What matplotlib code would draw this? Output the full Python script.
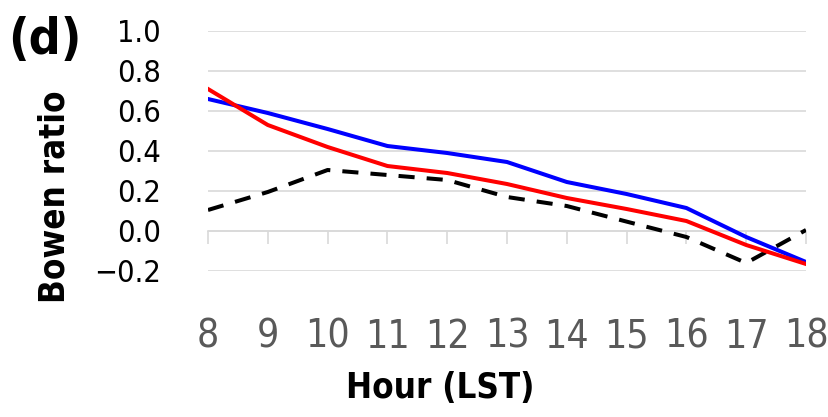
import matplotlib
matplotlib.use("Agg")
import matplotlib.pyplot as plt
from matplotlib import font_manager as fm

hours = [8, 9, 10, 11, 12, 13, 14, 15, 16, 17, 18]
blue_series = [0.66, 0.59, 0.51, 0.425, 0.39, 0.345, 0.245, 0.185, 0.115, -0.03, -0.155]
red_series = [0.71, 0.53, 0.42, 0.325, 0.29, 0.235, 0.165, 0.11, 0.05, -0.07, -0.165]
black_series = [0.105, 0.195, 0.305, 0.28, 0.255, 0.17, 0.125, 0.047, -0.03, -0.16, 0.005]
y_ticks = [-0.2, 0.0, 0.2, 0.4, 0.6, 0.8, 1.0]
y_tick_labels = ['\u22120.2', '0.0', '0.2', '0.4', '0.6', '0.8', '1.0']

# Prefer a narrow sans face when one is installed
fonts = fm.fontManager.ttflist
names = {f.name for f in fonts}
stretch = 'normal'
if 'Liberation Sans Narrow' in names:
    family = 'Liberation Sans Narrow'
elif any(f.name == 'DejaVu Sans' and 'ondensed' in f.fname for f in fonts):
    family, stretch = 'DejaVu Sans', 'condensed'
else:
    family = 'Open Sans'
plt.rcParams['font.family'] = [family, 'DejaVu Sans']
plt.rcParams['font.stretch'] = stretch

W, H = 829, 417
fig = plt.figure(figsize=(W / 100, H / 100), dpi=100)
ax = fig.add_axes([208 / W, 1 - 271 / H, (806 - 208) / W, (271 - 31) / H])

grid_color = '#d9d9d9'
for yv in y_ticks:
    ax.axhline(yv, color=grid_color, lw=1.2, zorder=1)

ax.plot(hours, black_series, color='black', lw=2.9, ls=(0, (4, 3)),
        dash_capstyle='butt', zorder=3)
ax.plot(hours, blue_series, color='#0000ff', lw=2.9, zorder=4)
ax.plot(hours, red_series, color='#ff0000', lw=2.9, zorder=5)

ax.set_xlim(hours[0], hours[-1])
ax.set_ylim(y_ticks[0], y_ticks[-1])

for side in ['top', 'right', 'left']:
    ax.spines[side].set_visible(False)
ax.spines['bottom'].set_position(('data', 0))
ax.spines['bottom'].set_color(grid_color)
ax.spines['bottom'].set_linewidth(1.2)

ax.set_xticks(hours)
ax.set_xticklabels([str(h) for h in hours])
ax.tick_params(axis='x', direction='out', length=9, width=1.2, color=grid_color,
               labelsize=28, labelcolor='#595959', pad=75)
for lbl in ax.get_xticklabels():
    lbl.set_verticalalignment('baseline')
ax.set_yticks(y_ticks)
ax.set_yticklabels(y_tick_labels)
ax.tick_params(axis='y', length=0, labelsize=22, labelcolor='black', pad=34)

fig.text(440 / W, 1 - 388 / H, 'Hour (LST)', fontsize=25, fontweight='bold',
         ha='center', va='center')
fig.text(55 / W, 1 - 197 / H, 'Bowen ratio', fontsize=25, fontweight='bold',
         rotation=90, ha='center', va='center')
fig.text(45 / W, 1 - 40 / H, '(d)', fontsize=36, fontweight='bold',
         ha='center', va='center')

fig.savefig('out.png', dpi=100)
